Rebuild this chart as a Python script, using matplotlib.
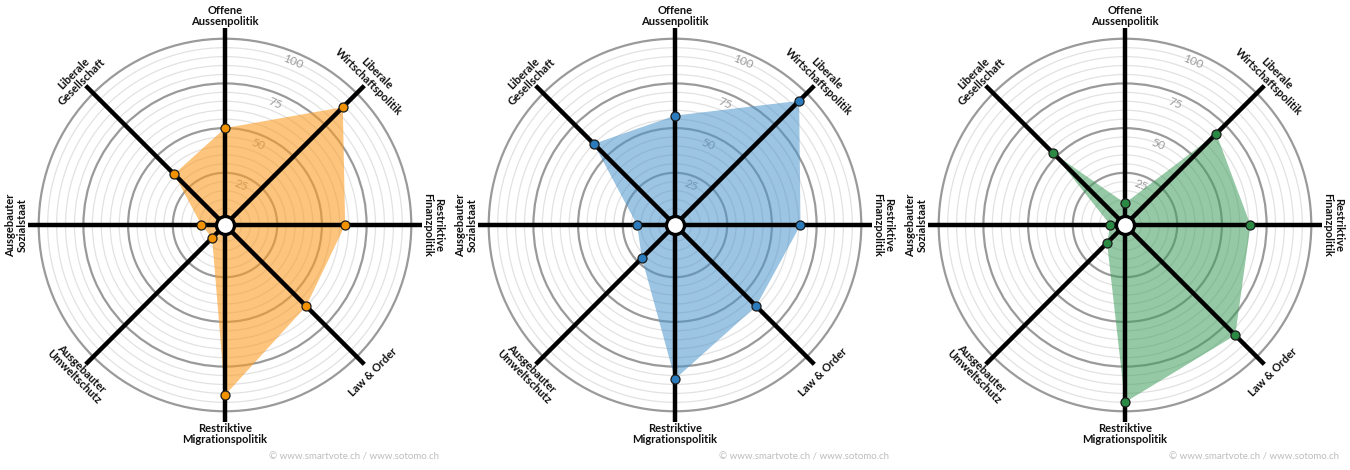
import numpy as np
import matplotlib
matplotlib.use("Agg")
import matplotlib.pyplot as plt

# axes, clockwise from the top
categories = [
    "Offene\nAussenpolitik",
    "Liberale\nWirtschaftspolitik",
    "Restriktive\nFinanzpolitik",
    "Law & Order",
    "Restriktive\nMigrationspolitik",
    "Ausgebauter\nUmweltschutz",
    "Ausgebauter\nSozialstaat",
    "Liberale\nGesellschaft",
]

values_orange = [50, 89, 63, 60, 91, 6, 9, 36]
values_blue = [57, 94, 66, 60, 82, 22, 17, 60]
values_green = [8, 68, 66, 83, 95, 10, 4, 53]

ring_labels = [25, 50, 75, 100]
credit = "\u00a9 www.smartvote.ch / www.sotomo.ch"

plt.rcParams["font.family"] = ["Lato", "DejaVu Sans"]

W, H = 1350, 470
R_AX = 197          # axes radius in px
R_MIN, R_MAX = -4.2, 106

panels = [
    (values_orange, "#fa9d26", 0.6, "#f39200"),
    (values_blue, "#4b94cc", 0.55, "#2b7bbd"),
    (values_green, "#3f9c5c", 0.55, "#2a8a44"),
]

fig = plt.figure(figsize=(W / 100, H / 100), dpi=100)

n = len(categories)
deg = np.arange(n) * 360 / n
theta = np.deg2rad(deg)

for i, (vals, fill_col, fill_alpha, dot_col) in enumerate(panels):
    cx = 225 + 450 * i
    cy = H - 225
    ax = fig.add_axes([(cx - R_AX) / W, (cy - R_AX) / H, 2 * R_AX / W, 2 * R_AX / H],
                      projection="polar")
    ax.set_theta_zero_location("N")
    ax.set_theta_direction(-1)
    ax.set_ylim(R_MIN, R_MAX)
    ax.spines["polar"].set_visible(False)
    ax.set_facecolor("none")

    # rings every 5, darker every 25
    ticks = list(range(5, 101, 5))
    ax.set_yticks(ticks)
    ax.set_yticklabels([])
    ax.set_xticks(theta)
    ax.set_xticklabels([])
    ax.xaxis.grid(False)
    ax.yaxis.grid(True)
    for t, gl in zip(ticks, ax.yaxis.get_gridlines()):
        if t % 25 == 0:
            gl.set_color("#9a9a9a")
            gl.set_linewidth(1.6)
        else:
            gl.set_color("#e2e2e2")
            gl.set_linewidth(0.9)
        gl.set_linestyle("-")
    ax.tick_params(axis="both", length=0, pad=0)

    # ring values (sit under the fill)
    for rv in ring_labels:
        ax.text(np.deg2rad(22.5), rv - 5.5, str(rv), rotation=-22.5,
                ha="center", va="center", fontsize=8.5, color="#9a9a9a",
                zorder=2)

    # filled profile
    th_c = np.append(theta, theta[0])
    v_c = np.append(vals, vals[0])
    ax.fill(th_c, v_c, color=fill_col, alpha=fill_alpha, lw=0, zorder=3)

    # spokes
    for t in theta:
        ax.plot([t, t], [0, R_MAX], color="black", lw=3.2,
                solid_capstyle="butt", zorder=5, clip_on=False)

    # points
    ax.plot(theta, vals, "o", ms=6.5, mfc=dot_col, mec="#1a1a1a", mew=0.9,
            zorder=7, clip_on=False)

    # centre hole
    ax.plot([0], [R_MIN], "o", ms=13, mfc="white", mec="black", mew=2.4,
            zorder=8, clip_on=False)

    # category labels
    for d, t, lab in zip(deg, theta, categories):
        rot = (-d) % 360
        if rot > 180:
            rot -= 360
        if rot < -90:
            rot += 180
        elif rot > 90:
            rot -= 180
        ax.text(t, 112.5, lab, rotation=rot, rotation_mode="anchor",
                ha="center", va="center", fontsize=8, fontweight="bold",
                color="#111111", linespacing=1.0, clip_on=False)

    fig.text((cx + 214) / W, 13 / H, credit, ha="right", va="center",
             fontsize=7, color="#bdbdbd")

fig.savefig("out.png", dpi=100)
